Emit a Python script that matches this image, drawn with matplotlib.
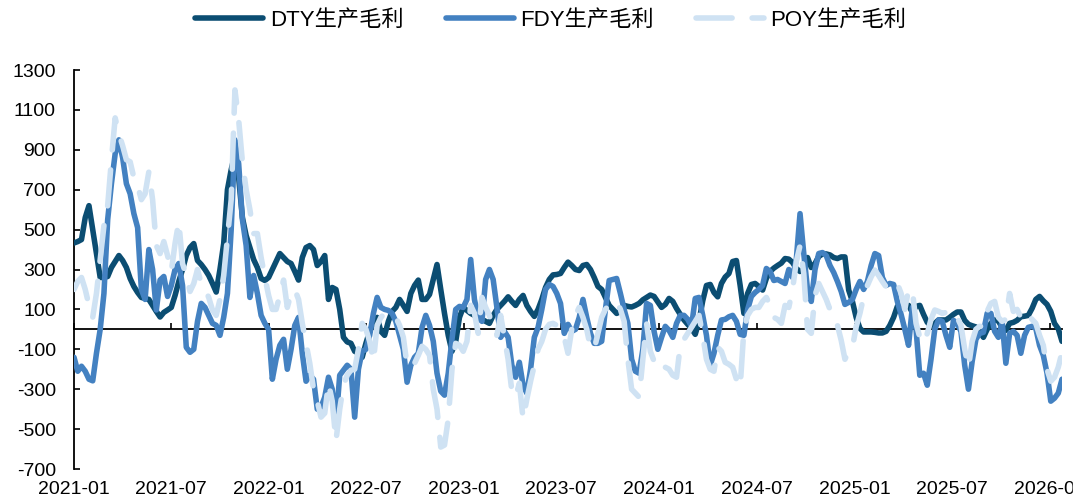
import matplotlib
matplotlib.use("Agg")
import matplotlib.pyplot as plt
import matplotlib.dates as mdates
from matplotlib.patches import Rectangle
import numpy as np
import pandas as pd

plt.rcParams['font.family'] = ['Liberation Sans', 'Noto Sans CJK SC', 'DejaVu Sans']
plt.rcParams['axes.unicode_minus'] = False

### data: weekly gross margin
start = '2021-01-01'
labels = ['DTY生产毛利', 'FDY生产毛利', 'POY生产毛利']

dty = [433, 440, 450, 560, 620, 500, 380, 260, 260, 265, 310, 340, 370,
       345, 310, 255, 215, 185, 160, 155, 150, 120, 90, 62, 85, 97,
       110, 170, 240, 300, 370, 410, 430, 345, 325, 300, 270, 230, 187,
       300, 430, 700, 800, 880, 760, 560, 470, 410, 350, 310, 255, 245,
       260, 300, 340, 380, 360, 340, 330, 290, 247, 360, 410, 420, 400,
       320, 340, 370, 150, 210, 200, 100, -40, -63, -70, -110, -120, -140,
       -70, -10, 30, 60, -10, -30, 40, 90, 110, 150, 120, 90, 180,
       220, 247, 150, 150, 175, 250, 325, 200, 80, -30, -110, -60, 60,
       110, 95, 80, 70, 60, 50, 40, 30, 70, 100, 120, 140, 163,
       140, 120, 150, 170, 120, 90, 65, 100, 150, 210, 250, 273, 275,
       280, 310, 337, 320, 300, 295, 320, 325, 300, 260, 215, 200, 160,
       120, 100, 80, 90, 120, 115, 112, 120, 130, 148, 160, 172, 165,
       137, 110, 125, 155, 140, 105, 75, 47, 25, 5, -25, 40, 143,
       220, 225, 185, 163, 230, 262, 280, 340, 345, 220, 80, 180, 225,
       230, 215, 197, 255, 290, 307, 320, 332, 355, 352, 335, 305, 290,
       300, 360, 310, 330, 365, 378, 378, 373, 360, 355, 363, 363, 197,
       140, 60, 5, -13, -13, -13, -15, -18, -18, -10, 20, 60, 115,
       112, 118, 120, 85, 115, 120, 75, 35, 18, 30, 47, 47, 47,
       60, 75, 87, 87, 45, 25, 18, 12, -10, -40, 0, 30, 47,
       42, 10, -5, 30, 35, 45, 63, 66, 70, 105, 150, 165, 143,
       125, 90, 30, 3, -60]

fdy = [-140, -210, -185, -210, -250, -258, -120, 0, 180, 550, 730, 880, 950,
       860, 730, 680, 580, 510, 200, 150, 400, 300, 97, 247, 265, 165,
       220, 300, 330, 220, -90, -115, -100, 40, 130, 110, 70, 30, 20,
       -30, 60, 180, 500, 950, 830, 550, 420, 160, 270, 180, 70, 30,
       0, -250, -150, -80, -50, -200, -100, 20, 60, -120, -260, -230, -250,
       -400, -390, -340, -240, -300, -470, -230, -205, -180, -200, -440, -200, -110,
       -100, -30, 80, 160, 110, 100, 95, 80, 40, -30, -100, -265, -180,
       -140, -120, 10, 70, 20, -60, -220, -310, -330, -220, -50, 100, 115,
       110, 150, 350, 150, 60, 40, 250, 300, 250, 110, -40, -10, -40,
       -180, -240, -165, -280, -320, -200, -40, 10, 100, 200, 225, 215, 180,
       130, -20, 25, -10, 0, 60, 150, 60, -20, -70, -70, -60, 100,
       245, 250, 255, 180, 100, 30, -150, -210, -220, -100, 130, 120, -10,
       -100, -40, 15, -5, -40, 30, 70, 70, 50, 15, 155, 160, 70,
       -30, -180, -120, -30, 47, 50, 63, 70, 40, -25, -30, 100, 165,
       185, 200, 220, 305, 290, 245, 250, 240, 230, 300, 260, 350, 580,
       380, 200, 140, 300, 380, 385, 370, 320, 285, 240, 190, 125, 135,
       150, 200, 240, 200, 240, 320, 380, 370, 260, 220, 230, 225, 140,
       75, 0, -80, 110, 0, -230, -220, -280, -150, 0, 47, 40, -30,
       -90, 45, 30, -10, -180, -300, -160, -50, -20, -15, 80, 80, -10,
       -40, 40, -170, -20, -10, -30, -120, -30, 10, 15, 5, -80, -130,
       -220, -360, -345, -320, -250]

poy = [200, 240, 260, 200, 120, 60, 180, 350, 520, 620, 850, 1060, 980,
       920, 850, 840, 760, 720, 650, 680, 790, 650, 420, 380, 440, 370,
       290, 430, 540, 330, 270, 190, 230, 300, 230, 200, 160, 97, 70,
       150, 270, 460, 650, 1200, 1050, 840, 700, 600, 480, 480, 360, 260,
       170, 100, 100, 170, 247, 110, 180, 200, 150, 30, -70, -170, -300,
       -360, -440, -420, -270, -360, -560, -400, -280, -230, -205, -200, -100, 30,
       0, -60, -160, 20, 60, 80, 80, 70, 60, 20, -40, -180, -160,
       -170, -130, -85, -100, -130, -300, -400, -590, -580, -450, -200, -70, -80,
       -110, -60, 120, 80, -20, 160, 110, 70, 0, -30, 70, -40, -150,
       -310, -340, -270, -450, -350, -260, -180, -100, -60, 0, 25, 30, 20,
       -20, -40, -120, 0, 70, 110, 60, 0, -90, -100, -20, 60, 100,
       125, 130, 140, 100, 40, -150, -300, -320, -340, -150, 30, -110, -160,
       -205, -200, -190, -200, -230, -240, -80, -50, -20, 10, 40, 70, -30,
       -150, -200, -210, -90, -110, -165, -175, -190, -250, -290, 0, 70, 100,
       110, 110, 140, 160, 120, 60, 50, 30, 120, 110, 200, 340, 420,
       280, 0, -20, 170, 230, 190, 150, 100, 70, 20, -55, -150, -110,
       -90, 13, 80, 163, 220, 263, 297, 270, 240, 213, 215, 240, 230,
       180, 100, 200, 200, 30, -40, -70, -20, 50, 97, 90, 80, 85,
       70, 47, 60, 20, -100, -190, -60, 0, 15, 15, 90, 130, 140,
       60, 40, 50, 180, 90, 100, 60, 90, 70, 50, 30, -30, -80,
       -200, -260, -240, -190, -115]

colors = ['#0b4d72', '#4381c1', '#cfe2f3']
yticks = np.arange(-700, 1301, 200)

### plot
fig = plt.figure(figsize=(10.91, 5.04), dpi=100)
ax = fig.add_axes([74 / 1091, 1 - 469 / 504, (1062 - 74) / 1091, 399 / 504])

series = [dty, fdy, poy]
for i, vals in enumerate(series):
    dates = pd.date_range(start, periods=len(vals), freq='7D')
    if i == 2:
        ax.plot(dates, vals, color=colors[i], lw=4.0, label=labels[i],
                dashes=(6.5, 3.6), dash_capstyle='round', dash_joinstyle='round', zorder=3 + i)
    else:
        ax.plot(dates, vals, color=colors[i], lw=4.0, label=labels[i],
                solid_capstyle='round', solid_joinstyle='round', zorder=3 + i)

last = pd.date_range(start, periods=len(dty), freq='7D')[-1]
ax.set_xlim(pd.Timestamp(start), last)
ax.set_ylim(-700, 1300)
ax.set_yticks(yticks)
ax.set_yticklabels([str(v) for v in yticks])

ax.xaxis.set_major_locator(mdates.MonthLocator(bymonth=[1, 7]))
ax.xaxis.set_major_formatter(mdates.DateFormatter('%Y-%m'))

# x axis sits on zero, labels at the bottom
ax.spines['bottom'].set_position(('data', 0))
ax.spines['bottom'].set_linewidth(1.3)
ax.spines['left'].set_linewidth(1.3)
ax.spines['top'].set_visible(False)
ax.spines['right'].set_visible(False)
ax.tick_params(axis='x', direction='in', length=4.5, width=1.2, pad=109, labelsize=14)
ax.tick_params(axis='y', direction='in', length=4.5, width=1.2, pad=13, labelsize=14)

fig.legend(loc='center', bbox_to_anchor=(0.505, 0.96), ncol=3, frameon=False,
           fontsize=16, handlelength=3.05, handletextpad=0.3, columnspacing=1.9)

# the source picture is cut off on the right
fig.add_artist(Rectangle((1073 / 1091, 0), 1, 0.1, transform=fig.transFigure,
                         color='white', zorder=10))

fig.savefig('out.png', dpi=100)
